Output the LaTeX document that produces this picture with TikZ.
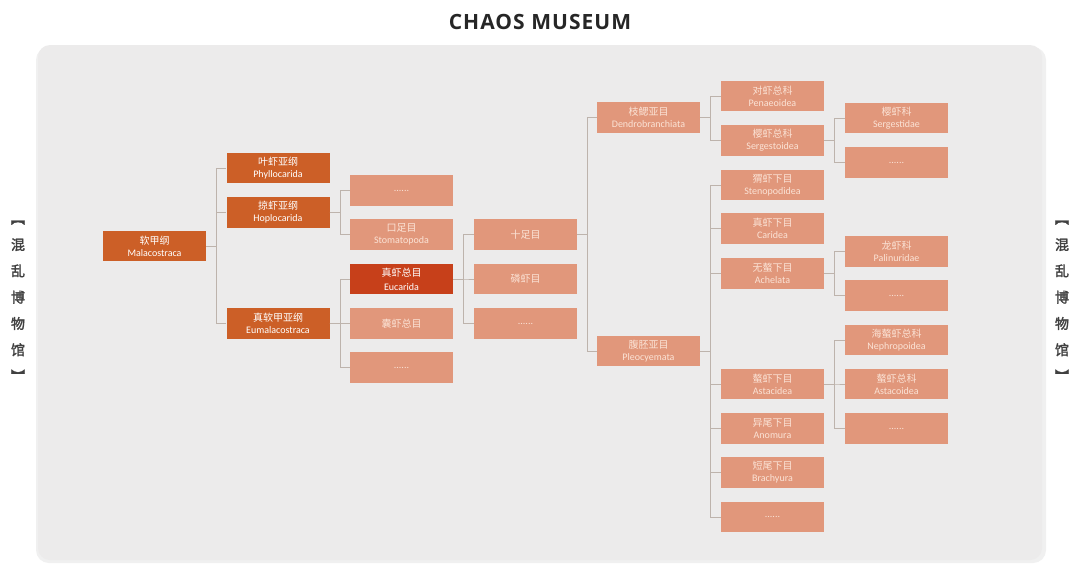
\documentclass[tikz,border=0pt]{standalone}
\usepackage{fontspec}
\setmainfont{Carlito}
\newfontfamily\cjk{Noto Sans CJK SC}
\newfontfamily\sidefont[FakeBold=2]{Noto Sans CJK SC}
\newfontfamily\titlefont[LetterSpace=5]{Open Sans}
\usetikzlibrary{positioning}
\definecolor{chaosorange}{HTML}{CC5F27}
\definecolor{chaosred}{HTML}{C7401A}
\definecolor{chaossalmon}{HTML}{E1977B}
\definecolor{chaostext}{HTML}{FBE3D6}
\definecolor{chaosline}{HTML}{BDB3AC}
\definecolor{chaospanel}{HTML}{ECEBEB}

\begin{document}
\begin{tikzpicture}[x=1pt, y=-1pt,
    taxon/.style={minimum width=103pt, minimum height=30.5pt, inner sep=0pt,
                  align=center, font=\fontsize{10}{12}\selectfont,
                  fill=chaossalmon, text=chaostext},
    upper/.style={taxon, fill=chaosorange, text=white},
    link/.style={draw=chaosline, line width=0.6pt}
  ]
    \useasboundingbox (0,0) rectangle (1080,566);
    \fill[white] (0,0) rectangle (1080,566);
    % panel
    \fill[black!6, rounded corners=13pt] (36,47) rectangle (1046,563);
    \fill[chaospanel, rounded corners=12pt] (38,45) rectangle (1042,560);

    \node[font=\titlefont\bfseries\fontsize{21}{24}\selectfont, text=black!85] (title) at (540,22)
      {CHAOS MUSEUM};
    \node[font=\sidefont\fontsize{14}{26.3}\selectfont, align=center, text=black!75] (sidel) at (18,301)
      {︻\\混\\乱\\博\\物\\馆\\︼};
    \node[font=\sidefont\fontsize{14}{26.3}\selectfont, align=center, text=black!75] (sider) at (1062,301)
      {︻\\混\\乱\\博\\物\\馆\\︼};

    % class and subclasses
    \node[upper] (mala) at (154.5,246)   {{\cjk 软甲纲}\\Malacostraca};
    \node[upper] (phyl) at (278,168)     {{\cjk 叶虾亚纲}\\Phyllocarida};
    \node[upper] (hopl) at (278,212.5)   {{\cjk 掠虾亚纲}\\Hoplocarida};
    \node[upper] (euma) at (278,323.5)   {{\cjk 真软甲亚纲}\\Eumalacostraca};

    % superorders / orders
    \node[taxon] (hdots) at (401.5,190.5) {......};
    \node[taxon] (stom)  at (401.5,234.5) {{\cjk 口足目}\\Stomatopoda};
    \node[taxon, fill=chaosred, text=white, font=\fontsize{10}{14}\selectfont] (euca) at (401.5,279)
      {{\cjk 真虾总目}\\Eucarida};
    \node[taxon] (pera)  at (401.5,323.5) {\cjk 囊虾总目};
    \node[taxon] (edots) at (401.5,367.5) {......};

    \node[taxon] (deca)  at (525.5,234.5) {\cjk 十足目};
    \node[taxon] (euph)  at (525.5,279)   {\cjk 磷虾目};
    \node[taxon] (cdots) at (525.5,323.5) {......};

    % suborders
    \node[taxon] (dend) at (648.5,117.5) {{\cjk 枝鳃亚目}\\Dendrobranchiata};
    \node[taxon] (pleo) at (648.5,351)   {{\cjk 腹胚亚目}\\Pleocyemata};

    % superfamilies / infraorders
    \node[taxon] (pena) at (772.5,96)    {{\cjk 对虾总科}\\Penaeoidea};
    \node[taxon] (serg) at (772.5,140.5) {{\cjk 樱虾总科}\\Sergestoidea};
    \node[taxon] (sten) at (772.5,185)   {{\cjk 猬虾下目}\\Stenopodidea};
    \node[taxon] (cari) at (772.5,228.5) {{\cjk 真虾下目}\\Caridea};
    \node[taxon] (ache) at (772.5,273.5) {{\cjk 无螯下目}\\Achelata};
    \node[taxon] (asta) at (772.5,384)   {{\cjk 螯虾下目}\\Astacidea};
    \node[taxon] (anom) at (772.5,428.5) {{\cjk 异尾下目}\\Anomura};
    \node[taxon] (brac) at (772.5,472.5) {{\cjk 短尾下目}\\Brachyura};
    \node[taxon] (pdots) at (772.5,517)  {......};

    % families / superfamilies
    \node[taxon] (sgid)  at (896.5,118)   {{\cjk 樱虾科}\\Sergestidae};
    \node[taxon] (sdots) at (896.5,162.5) {......};
    \node[taxon] (pali)  at (896.5,251.5) {{\cjk 龙虾科}\\Palinuridae};
    \node[taxon] (adots) at (896.5,295.5) {......};
    \node[taxon] (neph)  at (896.5,340)   {{\cjk 海螯虾总科}\\Nephropoidea};
    \node[taxon] (astc)  at (896.5,384)   {{\cjk 螯虾总科}\\Astacoidea};
    \node[taxon] (ndots) at (896.5,428.5) {......};

    % tree links
    \foreach \p/\c in {mala/phyl, mala/hopl, mala/euma,
                       hopl/hdots, hopl/stom,
                       euma/euca, euma/pera, euma/edots,
                       euca/deca, euca/euph, euca/cdots,
                       deca/dend, deca/pleo,
                       dend/pena, dend/serg,
                       pleo/sten, pleo/cari, pleo/ache, pleo/asta,
                       pleo/anom, pleo/brac, pleo/pdots,
                       serg/sgid, serg/sdots,
                       ache/pali, ache/adots,
                       asta/neph, asta/astc, asta/ndots}
      \draw[link] (\p.east) -- ++(10.5,0) |- (\c.west);
  \end{tikzpicture}
\end{document}
